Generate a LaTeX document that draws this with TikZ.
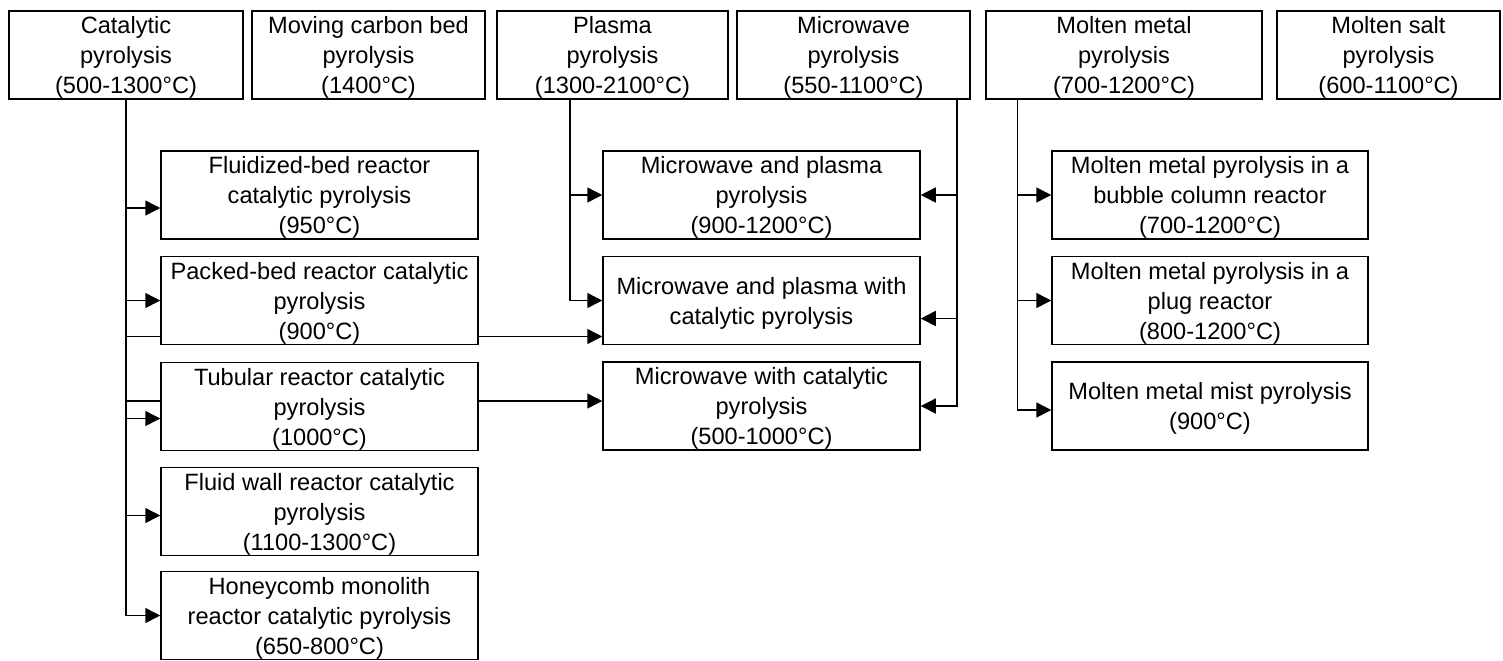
\documentclass[tikz,border=0pt]{standalone}
\usepackage{fontspec}
\setmainfont{Liberation Sans}
\usetikzlibrary{arrows.meta}

\begin{document}
\begin{tikzpicture}[x=0.5pt,y=-0.5pt,
  box/.style={draw, fill=white, line width=0.75pt, align=center, inner sep=0pt,
    minimum height=44pt, text depth=0pt, font=\fontsize{11.8}{15}\selectfont},
  arr/.style={-{Triangle[length=7.5pt,width=7.5pt]}, line width=0.75pt},
  ln/.style={line width=0.75pt}]
\useasboundingbox (0,0) rectangle (1503,660);
%
\node[box, minimum width=117pt] (cat) at (126,55) {Catalytic\\pyrolysis\\(500-1300°C)};
\node[box, minimum width=116.5pt] (mcb) at (368.5,55) {Moving carbon bed\\pyrolysis\\(1400°C)};
\node[box, minimum width=115.5pt] (plasma) at (612.5,55) {Plasma\\pyrolysis\\(1300-2100°C)};
\node[box, minimum width=116.5pt] (mw) at (853.5,55) {Microwave\\pyrolysis\\(550-1100°C)};
\node[box, minimum width=138pt] (mm) at (1124,55) {Molten metal\\pyrolysis\\(700-1200°C)};
\node[box, minimum width=111.5pt] (ms) at (1388.5,55) {Molten salt\\pyrolysis\\(600-1100°C)};
%
\node[box, minimum width=158.5pt] (cfb) at (319.5,195) {Fluidized-bed reactor\\catalytic pyrolysis\\(950°C)};
\node[box, minimum width=158.5pt] (cpb) at (319.5,300.5) {Packed-bed reactor catalytic\\pyrolysis\\(900°C)};
\node[box, minimum width=158.5pt] (ctub) at (319.5,406.5) {Tubular reactor catalytic\\pyrolysis\\(1000°C)};
\node[box, minimum width=158.5pt] (cfw) at (319.5,511.5) {Fluid wall reactor catalytic\\pyrolysis\\(1100-1300°C)};
\node[box, minimum width=158.5pt] (chm) at (319.5,615.5) {Honeycomb monolith\\reactor catalytic pyrolysis\\(650-800°C)};
%
\node[box, minimum width=158.5pt] (mwp) at (761.5,195) {Microwave and plasma\\pyrolysis\\(900-1200°C)};
\node[box, minimum width=158.5pt] (mwpc) at (761.5,300.5) {Microwave and plasma with\\catalytic pyrolysis};
\node[box, minimum width=158.5pt] (mwc) at (761.5,406) {Microwave with catalytic\\pyrolysis\\(500-1000°C)};
%
\node[box, minimum width=158pt] (mmb) at (1210,195) {Molten metal pyrolysis in a\\bubble column reactor\\(700-1200°C)};
\node[box, minimum width=158pt] (mmp) at (1210,300.5) {Molten metal pyrolysis in a\\plug reactor\\(800-1200°C)};
\node[box, minimum width=158pt] (mmm) at (1210,406) {Molten metal mist pyrolysis\\(900°C)};
%
% catalytic branch
\coordinate (f1) at ([yshift=-6.5pt]cfb.west);
\coordinate (f3) at ([yshift=-6pt]ctub.west);
\coordinate (f4) at ([yshift=-2pt]cfw.west);
\draw[arr] (cat.south) |- (chm.west);
\draw[arr] (f1 -| cat.south) -- (f1);
\draw[arr] (cpb.west -| cat.south) -- (cpb.west);
\draw[arr] (f3 -| cat.south) -- (f3);
\draw[arr] (f4 -| cat.south) -- (f4);
%
\coordinate (pk) at ([yshift=-18pt]cpb.west);
\coordinate (pk2) at ([yshift=-18pt]cpb.east);
\draw[ln] (pk -| cat.south) -- (pk);
\draw[arr] (pk2) -- (pk2 -| mwpc.west);
\coordinate (tb) at ([yshift=2.75pt]ctub.west);
\coordinate (tb2) at ([yshift=2.75pt]ctub.east);
\draw[ln] (tb -| cat.south) -- (tb);
\draw[arr] (tb2) -- (tb2 -| mwc.west);
%
% plasma branch
\coordinate (ptrunk) at ([xshift=-21.25pt]plasma.south);
\draw[arr] (ptrunk) |- (mwpc.west);
\draw[arr] (ptrunk |- mwp.west) -- (mwp.west);
%
% microwave branch
\coordinate (wtrunk) at ([xshift=-7pt]mw.south east);
\coordinate (w2) at ([yshift=-9pt]mwpc.east);
\draw[arr] (wtrunk) |- (mwc.east);
\draw[arr] (wtrunk |- mwp.east) -- (mwp.east);
\draw[arr] (wtrunk |- w2) -- (w2);
%
% molten metal branch
\coordinate (mtrunk) at ([xshift=16pt]mm.south west);
\coordinate (m3) at ([yshift=-2pt]mmm.west);
\draw[arr] (mtrunk) |- (m3);
\draw[arr] (mtrunk |- mmb.west) -- (mmb.west);
\draw[arr] (mtrunk |- mmp.west) -- (mmp.west);
\end{tikzpicture}
\end{document}
